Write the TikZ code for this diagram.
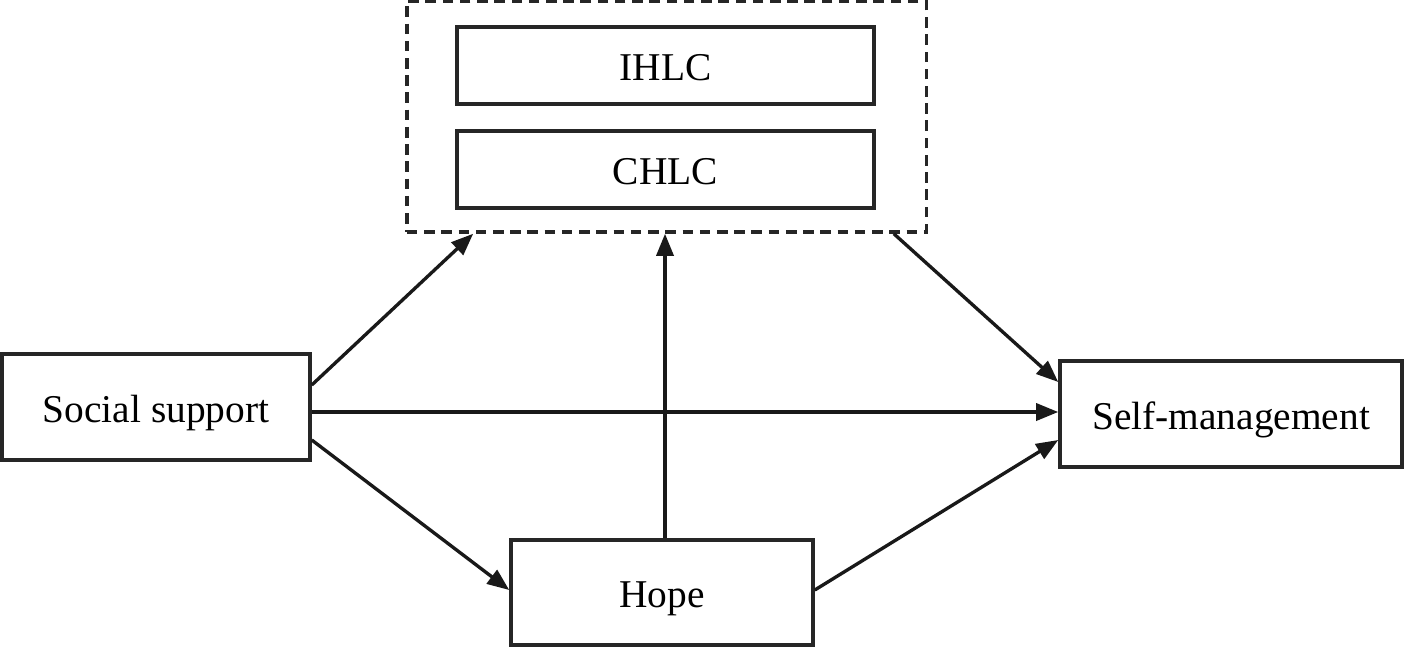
\documentclass[tikz,border=0pt]{standalone}
\usepackage{fontspec}
\setmainfont{Liberation Serif}
\usetikzlibrary{arrows.meta,calc}
\newcommand{\lowtext}[1]{\raisebox{-4.4pt}[0pt][0pt]{#1}}
\begin{document}
\begin{tikzpicture}[x=0.01cm,y=-0.01cm,
  box/.style={draw=black!85,line width=0.95pt,rectangle,inner sep=0pt,font=\fontsize{11.2}{13}\selectfont},
  grpbox/.style={draw=black!85,line width=0.95pt,dash pattern=on 3pt off 1.9pt,rectangle,inner sep=0pt},
  arr/.style={draw=black!90,line width=0.95pt,-{Triangle[length=0.22cm,width=0.17cm]}}]
\useasboundingbox (0,0) rectangle (1404,648);
\node[grpbox,minimum width=5.19cm,minimum height=2.31cm] (grp) at (666.5,116.5) {};
\node[box,minimum width=4.17cm,minimum height=0.77cm] (ihlc) at (665.5,65.5) {\lowtext{IHLC}};
\node[box,minimum width=4.17cm,minimum height=0.77cm] (chlc) at (665.5,169.5) {\lowtext{CHLC}};
\node[box,minimum width=3.08cm,minimum height=1.06cm] (soc) at (156,407) {\lowtext{Social support}};
\node[box,minimum width=3.42cm,minimum height=1.06cm] (sm) at (1231,414) {\lowtext{Self-management}};
\node[box,minimum width=3.02cm,minimum height=1.05cm] (hope) at (662,592.5) {\lowtext{Hope}};
\draw[arr] ($(soc.east)+(0,-22)$) -- ($(grp.south west)+(68,0)$);
\draw[arr] ($(soc.east)+(0,5)$) -- ($(sm.west)+(0,-2)$);
\draw[arr] ($(soc.east)+(0,33)$) -- ($(hope.west)+(0,-2.5)$);
\draw[arr] ($(hope.north)+(3,0)$) -- ($(grp.south)+(-1.5,0)$);
\draw[arr] ($(grp.south east)+(-34,0)$) -- ($(sm.west)+(0,-32)$);
\draw[arr] ($(hope.east)+(0,-2.5)$) -- ($(sm.west)+(0,26)$);
\end{tikzpicture}
\end{document}
